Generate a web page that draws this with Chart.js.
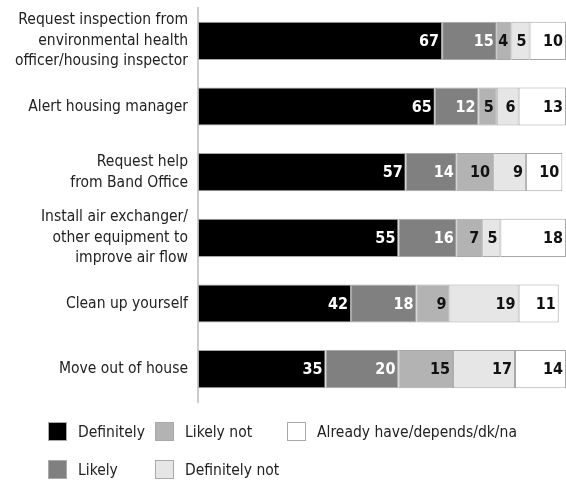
<!DOCTYPE html>
<html>
<head>
<meta charset="utf-8">
<title>Responses to mould</title>
<script src="https://cdn.jsdelivr.net/npm/chart.js@4"></script>
<style>
  html, body { margin: 0; padding: 0; background: #fff; }
  #wrap { position: relative; width: 566px; height: 483px; }
</style>
</head>
<body>
<div id="wrap"><canvas id="chart"></canvas></div>
<script>
const actions = [
  ["Request inspection from", "environmental health", "officer/housing inspector"],
  "Alert housing manager",
  ["Request help", "from Band Office"],
  ["Install air exchanger/", "other equipment to", "improve air flow"],
  "Clean up yourself",
  "Move out of house",
];

const definitely = [67, 65, 57, 55, 42, 35];
const likely = [15, 12, 14, 16, 18, 20];
const likelyNot = [4, 5, 10, 7, 9, 15];
const definitelyNot = [5, 6, 9, 5, 19, 17];
const alreadyHave = [10, 13, 10, 18, 11, 14];

const seriesNames = ["Definitely", "Likely", "Likely not", "Definitely not", "Already have/depends/dk/na"];
const fills = ["#000000", "#808080", "#b3b3b3", "#e6e6e6", "#ffffff"];
const labelInk = ["#ffffff", "#ffffff", "#111111", "#111111", "#111111"];

const narrow = '"Liberation Sans Narrow", "DejaVu Sans Condensed", "Arial Narrow", sans-serif';

// value printed at the right end of each segment
const segmentLabels = {
  id: "segmentLabels",
  afterDatasetsDraw(chart) {
    const ctx = chart.ctx;
    ctx.save();
    ctx.font = "bold 16px " + narrow;
    ctx.textAlign = "right";
    ctx.textBaseline = "middle";
    chart.data.datasets.forEach((ds, i) => {
      const meta = chart.getDatasetMeta(i);
      meta.data.forEach((bar, j) => {
        const p = bar.getProps(["x", "y"], true);
        ctx.fillStyle = labelInk[i];
        ctx.fillText(String(ds.data[j]), p.x - 3, p.y + 1);
      });
    });
    ctx.restore();
  },
};

// two-row legend below the plot, filled column by column
const gridLegend = {
  id: "gridLegend",
  afterDraw(chart) {
    const ctx = chart.ctx;
    const cols = [48, 155, 287];
    const rows = [432, 470];
    ctx.save();
    ctx.font = "15.5px " + narrow;
    ctx.textBaseline = "middle";
    ctx.textAlign = "left";
    chart.data.datasets.forEach((ds, i) => {
      const x = cols[Math.floor(i / 2)];
      const y = rows[i % 2];
      ctx.fillStyle = ds.backgroundColor;
      ctx.fillRect(x, y - 10, 19, 19);
      ctx.strokeStyle = "#aaaaaa";
      ctx.lineWidth = 1;
      ctx.strokeRect(x + 0.5, y - 9.5, 18, 18);
      ctx.fillStyle = "#222222";
      ctx.fillText(ds.label, x + 30, y + 1);
    });
    ctx.restore();
  },
};

const datasets = [definitely, likely, likelyNot, definitelyNot, alreadyHave].map((values, i) => ({
  label: seriesNames[i],
  data: values,
  backgroundColor: fills[i],
  borderColor: "#a8a8a8",
  borderWidth: 1,
  borderSkipped: false,
  barPercentage: 0.58,
  categoryPercentage: 1,
}));

new Chart(document.getElementById("chart"), {
  type: "bar",
  data: { labels: actions, datasets: datasets },
  plugins: [segmentLabels, gridLegend],
  options: {
    indexAxis: "y",
    responsive: true,
    maintainAspectRatio: false,
    animation: false,
    layout: { padding: { top: 8, bottom: 81, right: 0, left: 0 } },
    plugins: {
      legend: { display: false },
      tooltip: { enabled: false },
    },
    scales: {
      x: {
        stacked: true,
        display: false,
        min: 0,
        max: 101,
      },
      y: {
        stacked: true,
        afterFit(scale) {
          scale.width = 198;
          scale.paddingTop = 0;
          scale.paddingBottom = 0;
        },
        grid: { display: false, drawTicks: false },
        border: { display: true, color: "#cccccc", width: 2 },
        ticks: {
          autoSkip: false,
          padding: 10,
          color: "#222222",
          font: { family: narrow, size: 15.5, lineHeight: 1.33 },
        },
      },
    },
  },
});
</script>
</body>
</html>
